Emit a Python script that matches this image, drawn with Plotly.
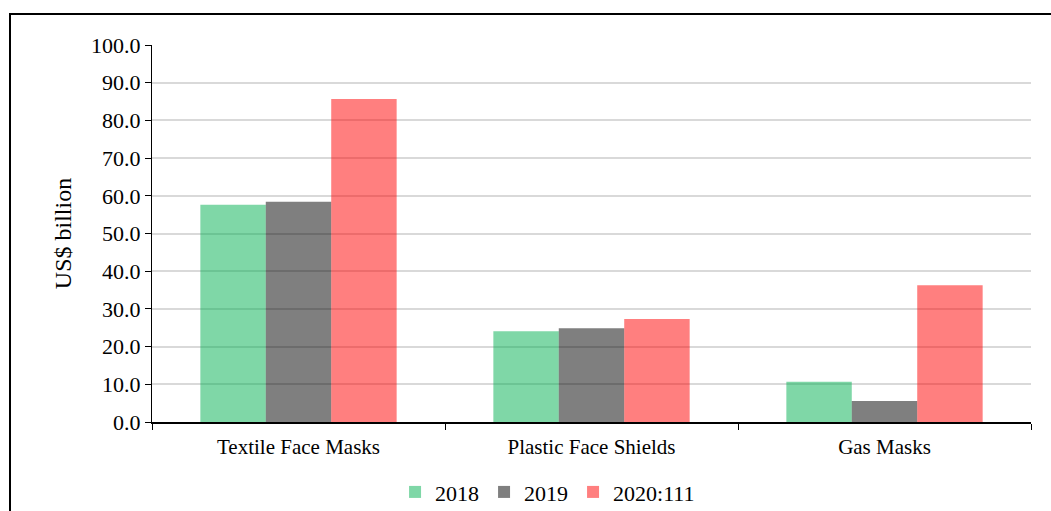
import plotly.graph_objects as go

categories = ["Textile Face Masks", "Plastic Face Shields", "Gas Masks"]
series_names = ["2018", "2019", "2020:111"]
values_2018 = [57.6, 24.1, 10.7]
values_2019 = [58.4, 24.9, 5.6]
values_2020 = [85.7, 27.3, 36.3]
colors = ["rgba(0,176,80,0.5)", "rgba(0,0,0,0.5)", "rgba(255,0,0,0.5)"]

FONT = "Liberation Serif"
FS = 21

fig = go.Figure()
for name, vals, col in zip(series_names, [values_2018, values_2019, values_2020], colors):
    fig.add_trace(go.Bar(x=categories, y=vals, name=name, marker=dict(color=col, line=dict(width=0))))

fig.update_layout(
    width=1051, height=511,
    margin=dict(l=152, r=20, t=45, b=89, autoexpand=False),
    paper_bgcolor="white", plot_bgcolor="white",
    barmode="group", bargap=0.33, bargroupgap=0,
    font=dict(family=FONT, size=FS, color="black"),
    legend=dict(orientation="h", x=0.45, xanchor="center", y=-0.186, yanchor="middle",
                font=dict(family=FONT, size=22, color="black"), itemwidth=30, traceorder="normal"),
    showlegend=True,
)
fig.update_yaxes(range=[0, 100], dtick=10, tickformat=".1f", showgrid=True, gridcolor="#d9d9d9",
                 gridwidth=1.5, ticks="outside", ticklen=6, tickcolor="black", showline=True,
                 linecolor="black", linewidth=1, zeroline=False, automargin=False,
                 tickfont=dict(family=FONT, size=22, color="black"),
                 title=dict(text="US$ billion", font=dict(family=FONT, size=24, color="black"), standoff=12))
fig.update_xaxes(showline=True, linecolor="black", linewidth=2, ticks="outside", tickson="boundaries",
                 ticklen=6, tickcolor="black", automargin=False, ticklabelstandoff=5,
                 tickfont=dict(family=FONT, size=FS, color="black"))

fig.add_shape(type="rect", xref="paper", yref="paper",
              x0=(10 - 152) / 879, x1=(1070 - 152) / 879,
              y0=(422 - 530) / 377, y1=(422 - 14) / 377,
              line=dict(color="black", width=2), fillcolor="rgba(0,0,0,0)", layer="above")

fig.write_html("out.html")
